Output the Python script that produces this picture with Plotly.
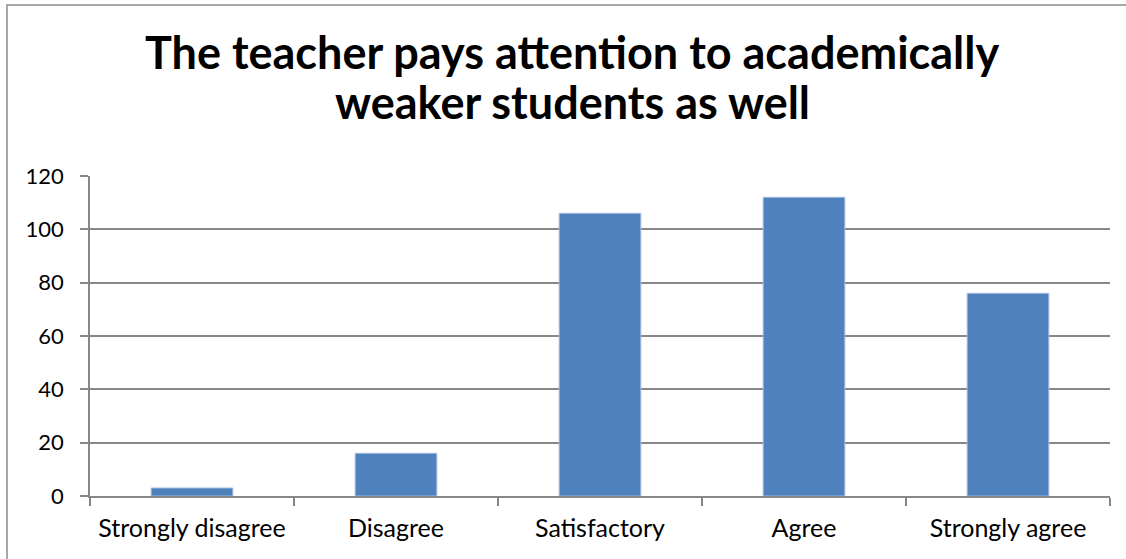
import plotly.graph_objects as go

categorias = ["Strongly disagree", "Disagree", "Satisfactory", "Agree", "Strongly agree"]
valores = [3, 16, 106, 112, 76]
ticks_y = [0, 20, 40, 60, 80, 100, 120]
titulo = ["The teacher pays attention to academically", "weaker students as well"]

W, H = 1126, 559
L, R, T, B = 90, 16, 176, 63
pw, ph = W - L - R, H - T - B

def px_x(px):
    return (px - L) / pw

def px_y(py):
    return (H - B - py) / ph

cinza = "#878787"

fig = go.Figure(go.Bar(
    x=categorias, y=valores,
    marker=dict(color="#4F81BD", line=dict(color="#9DB9DE", width=1)),
    width=0.4,
))

fig.update_layout(
    width=W, height=H,
    margin=dict(l=L, r=R, t=T, b=B, autoexpand=False),
    paper_bgcolor="white", plot_bgcolor="white",
    showlegend=False,
    font=dict(family="Lato, Carlito, sans-serif", color="black"),
)

# titulo em duas linhas, cada uma no seu lugar
for linha, base in zip(titulo, [71, 121]):
    fig.add_annotation(
        text="<b>%s</b>" % linha, showarrow=False,
        xref="paper", yref="paper", x=px_x(572), y=px_y(base + 10),
        xanchor="center", yanchor="bottom",
        font=dict(size=45, family="Lato, sans-serif", color="black"),
    )

fig.update_xaxes(
    showline=True, linecolor=cinza, linewidth=1.5,
    ticks="outside", tickson="boundaries", ticklen=8, tickcolor=cinza, tickwidth=1.5,
    tickfont=dict(size=25), ticklabelstandoff=9,
    showgrid=False, automargin=False,
)
fig.update_yaxes(
    range=[0, 120], tickvals=ticks_y,
    showline=True, linecolor=cinza, linewidth=1.5,
    ticks="outside", ticklen=8, tickcolor=cinza, tickwidth=1.5,
    showgrid=True, gridcolor=cinza, gridwidth=1.5,
    tickfont=dict(size=22), ticklabelstandoff=12,
    zeroline=False, automargin=False,
)

# borda externa do grafico
fig.add_shape(type="rect", xref="paper", yref="paper",
              x0=px_x(7), x1=px_x(1140), y0=px_y(570), y1=px_y(5),
              line=dict(color="#8c8c8c", width=1.5), layer="below")

fig.write_html("out.html", config={"displayModeBar": False},
               post_script="document.body.style.margin='0px';")
